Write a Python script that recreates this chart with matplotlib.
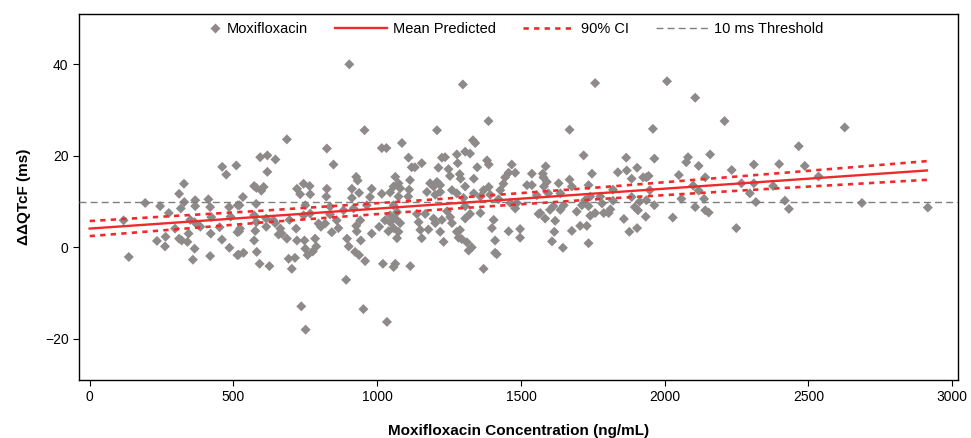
import matplotlib
matplotlib.use("Agg")
import matplotlib.pyplot as plt
from matplotlib.lines import Line2D
from matplotlib.legend_handler import HandlerLine2D

plt.rcParams['font.family'] = ['Liberation Sans', 'DejaVu Sans']

# Observed moxifloxacin concentration (ng/mL) and ddQTcF (ms)
conc = [
    118, 136, 193, 234, 245, 264, 262, 275, 297, 311, 328, 329, 317, 311, 320, 340, 344, 350, 365, 367,
    367, 365, 359, 379, 385, 413, 419, 423, 421, 419, 452, 460, 461, 475, 485, 486, 490, 510, 514, 514,
    515,
    533, 521, 523, 520, 518, 535, 572, 580, 605, 593, 618, 646, 618, 597, 579, 572, 580, 576, 572, 581,
    591, 625, 614, 614, 639, 645, 663, 668, 657, 686, 686, 692, 703, 714, 695, 718, 721, 732, 744, 765,
    767, 750, 767, 744, 721, 747, 750, 758, 784, 788, 776, 736, 751, 796, 804, 819, 825, 823, 825, 848,
    836, 836, 842, 859, 865, 883, 895, 901, 892, 903, 912, 927, 932, 937, 912, 918, 927, 941, 943, 929,
    923, 937, 958, 952, 956, 981, 975, 964, 981, 1007, 1016, 1016, 1032, 1020, 1034, 1027, 1039,
    1086, 1109, 1120, 1131, 1155, 1208, 1298, 1387, 1333, 1341, 1225, 1236, 1213, 1248, 1253, 1277, 1306,
    1323, 1280, 1287, 1290, 1348, 1382, 1388, 1336, 1306, 1063, 1074, 1057, 1045, 1080, 1114, 1111, 1108,
    1074, 1057, 1069, 1045, 1063, 1080, 1057, 1045, 1074, 1069, 1063, 1057, 1115, 1144, 1150, 1155, 1138,
    1167, 1178, 1173, 1184, 1196, 1208, 1219, 1202, 1219, 1196, 1202, 1219, 1231, 1225, 1243, 1254, 1260,
    1277, 1288, 1283, 1294, 1260, 1277, 1300, 1306, 1306, 1323, 1318, 1329, 1312, 1336, 1359, 1370, 1388,
    1359, 1370, 1410, 1410, 1416, 1393, 1422, 1428, 1439, 1445, 1457, 1468, 1480, 1405, 1399, 1457, 1497,
    1497, 1480, 1486, 1463, 1538, 1521, 1538, 1561,
    1555, 1567, 1584, 1576, 1586, 1578, 1590, 1580, 1595, 1601, 1613, 1619, 1616, 1608, 1646, 1631, 1637,
    1637, 1649, 1669, 1669, 1677, 1694, 1677, 1706, 1718, 1758, 1747, 1735, 1741, 1723, 1712, 1735, 1741,
    1729, 1735, 1758, 1776, 1782, 1788, 1805, 1811, 1820, 1837, 1820, 1858, 1866, 1868, 1877, 1885, 1885,
    1904, 1904, 1896, 1907, 1913, 1925, 1936, 1944, 1936, 1948, 1934, 1964, 1959, 1964, 2008, 2028, 2049,
    2058, 2081, 2075,
    2106, 2118, 2158, 2208, 2141, 2099, 2118, 2137, 2106, 2141, 2153, 2233, 2249, 2267, 2296, 2310, 2310,
    2317, 2377, 2398, 2418, 2432, 2466, 2487, 2535,
    2626, 2686, 2915,
]
ddqtcf = [
    5.9, -2.1, 9.7, 1.4, 9.0, 2.3, 0.2, 7.5, 4.1, 11.7, 13.9, 9.9, 8.5, 1.9, 1.5, 1.2, 3.0, 6.0, 5.5, 10.3,
    9.0, -0.3, -2.7, 4.8, 4.5, 10.5, 8.8, 6.6, 3.0, -1.9, 4.4, 1.7, 17.6, 15.9, 8.8, -0.1, 6.7, 17.9, -1.7, 3.3,
    9.2,
    11.0, 9.2, 4.1, 3.5, -1.6, -1.2, 13.4, 13.0, 13.2, 19.7, 20.1, 19.2, 16.5, 12.4, 9.5, 7.0, 5.5, 3.6, 1.5, -1.0,
    -3.6, -4.1, 6.3, 4.5, 5.9, 5.3, 4.1, 3.0, 2.8, 1.9, 23.6, -2.5, -4.7, -2.3, 6.0, 4.1, 12.8, 11.6, 13.9, 13.4,
    11.6, 9.2, 7.4, 7.0, 1.5, 1.5, -0.3, -1.7, 1.9, 0.2, -0.9, -12.9, -18.0, 5.2, 4.5, 5.2, 12.8, 11.1, 21.6, 18.1,
    8.9, 7.2, 3.3, 5.9, 4.2, 8.1, 1.9, 0.2, -7.1, 40.0, 12.8, 15.4, 14.6, 11.9, 10.8, 8.5, 4.7, 5.9, 1.5, 3.5,
    -1.0, -1.7, -3.0, -13.5, 25.6, 12.8, 11.0, 9.2, 3.0, 4.5, 11.7, 21.7, 21.7, -3.6, -16.3, 5.9, 3.5,
    22.8, 19.6, 17.5, 17.5, 18.4, 25.6, 35.6, 27.6, 23.4, 22.8, 19.6, 19.7, 17.4, 17.1, 15.6, 20.3, 20.9,
    20.5, 18.4, 16.0, 15.0, 17.5, 19.0, 18.1, 15.0, 13.3, 15.4, 14.0, 13.3, 12.0, 12.9, 14.7, 12.6, 11.1,
    11.1, 9.2, 7.7, 7.0, 6.3, 5.3, 4.2, 5.5, 3.4, 2.0, -3.6, -4.3, -4.1, 5.5, 3.8, 2.0, 7.3,
    7.3, 3.9, 12.1, 14.0, 13.3, 14.3, 13.6, 11.5, 12.1, 6.3, 5.3, 3.4, 1.2, 6.0, 7.9, 6.6, 5.3,
    3.4, 3.8, 2.1, 1.8, 12.5, 11.8, 10.8, 9.0, 6.3, 7.3, -0.7, 0.0, 1.1, 11.8, 11.1, 12.5, 13.2,
    7.5, -4.7, 1.5, -1.2, -1.5, 11.5, 10.5, 12.5, 13.9, 15.3, 16.3, 18.1, 16.3, 6.0, 4.2, 3.5, 4.0,
    2.1, 8.5, 9.7, 9.7, 16.1, 13.6, 13.6, 7.3,
    11.4, 7.5, 6.3, 16.1, 17.7, 15.3, 14.3, 13.3, 11.8, 8.2, 9.0, 5.8, 3.4, 1.3, -0.1, 14.0, 11.8,
    8.2, 9.2, 25.7, 14.8, 13.3, 7.8, 3.6, 4.7, 20.1, 35.9, 16.1, 13.6, 11.1, 10.3, 9.2, 9.0, 6.9,
    4.7, 0.9, 7.5, 11.1, 9.6, 7.5, 7.5, 8.3, 12.6, 16.4, 10.2, 6.2, 19.6, 16.8, 3.4, 11.0, 15.0,
    17.4, 4.2, 8.8, 8.1, 10.0, 15.3, 15.3, 15.6, 10.3, 12.5, 6.7, 19.4, 25.9, 9.2, 36.3, 6.5, 15.8,
    10.6, 19.7, 18.6,
    32.7, 17.8, 20.3, 27.6, 15.3, 13.5, 12.4, 10.6, 8.8, 8.1, 7.6, 16.9, 4.2, 14.0, 11.8, 18.1, 14.0,
    9.9, 13.4, 18.2, 10.2, 8.4, 22.1, 17.8, 15.5,
    26.2, 9.7, 8.7,
]

# Model prediction (mean and 90% CI)
pred_conc = [0, 600, 1200, 1800, 2400, 2912]
pred_mean = [4.1, 6.72, 9.33, 11.95, 14.57, 16.8]
pred_upper = [5.75, 8.01, 10.48, 13.24, 16.22, 18.84]
pred_lower = [2.45, 5.43, 8.18, 10.66, 12.92, 14.76]

threshold = 10
x_ticks = [0, 500, 1000, 1500, 2000, 2500, 3000]
y_ticks = [-20, 0, 20, 40]

gray = '#8e8a8a'
red = '#ee2b2b'

fig = plt.figure(figsize=(9.71, 4.38), dpi=100)
ax = fig.add_axes([0.0814, 0.1324, 0.9052, 0.8356])

ax.scatter(conc, ddqtcf, marker='D', s=26, color=gray, edgecolors='none', zorder=2)
ax.axhline(threshold, color='#7f7f7f', lw=1.0, dashes=(5, 3), zorder=3)
ax.plot(pred_conc, pred_mean, color=red, lw=1.7, zorder=4)
ax.plot(pred_conc, pred_upper, color=red, lw=1.9, dashes=(2, 2), zorder=4)
ax.plot(pred_conc, pred_lower, color=red, lw=1.9, dashes=(2, 2), zorder=4)

ax.set_xlim(-37, 3020)
ax.set_ylim(-29, 51)
ax.set_xticks(x_ticks)
ax.set_yticks(y_ticks)
ax.set_yticklabels(['\u221220', '0', '20', '40'])
ax.tick_params(labelsize=10, length=4, width=0.8, direction='out')
for sp in ax.spines.values():
    sp.set_linewidth(1.0)

ax.set_xlabel('Moxifloxacin Concentration (ng/mL)', fontsize=11, fontweight='bold', labelpad=14)
ax.set_ylabel('\u0394\u0394QTcF (ms)', fontsize=11, fontweight='bold', labelpad=10)


class RightMarker(HandlerLine2D):
    """Place the single legend marker at the right end of the handle box."""
    def get_xdata(self, legend, xdescent, ydescent, width, height, fontsize):
        end = -xdescent + width
        pad = 0.35 * fontsize
        return [end - 2 * pad, end], [end - pad]


h_pts = Line2D([], [], ls='none', marker='D', ms=5, color=gray, mec='none')
h_mean = Line2D([], [], color=red, lw=1.7)
h_ci = Line2D([], [], color=red, lw=1.9, dashes=(2, 2))
h_thr = Line2D([], [], color='#7f7f7f', lw=1.0, dashes=(5, 3))
ax.legend([h_pts, h_mean, h_ci, h_thr],
          ['Moxifloxacin', 'Mean Predicted', '90% CI', '10 ms Threshold'],
          handler_map={h_pts: RightMarker(numpoints=1)},
          loc='upper center', bbox_to_anchor=(0.474, 1.0),
          ncol=4, frameon=False, fontsize=10.5,
          handlelength=3.57, handletextpad=0.41, columnspacing=1.85,
          borderaxespad=0.15)

fig.savefig('out.png', dpi=100)
